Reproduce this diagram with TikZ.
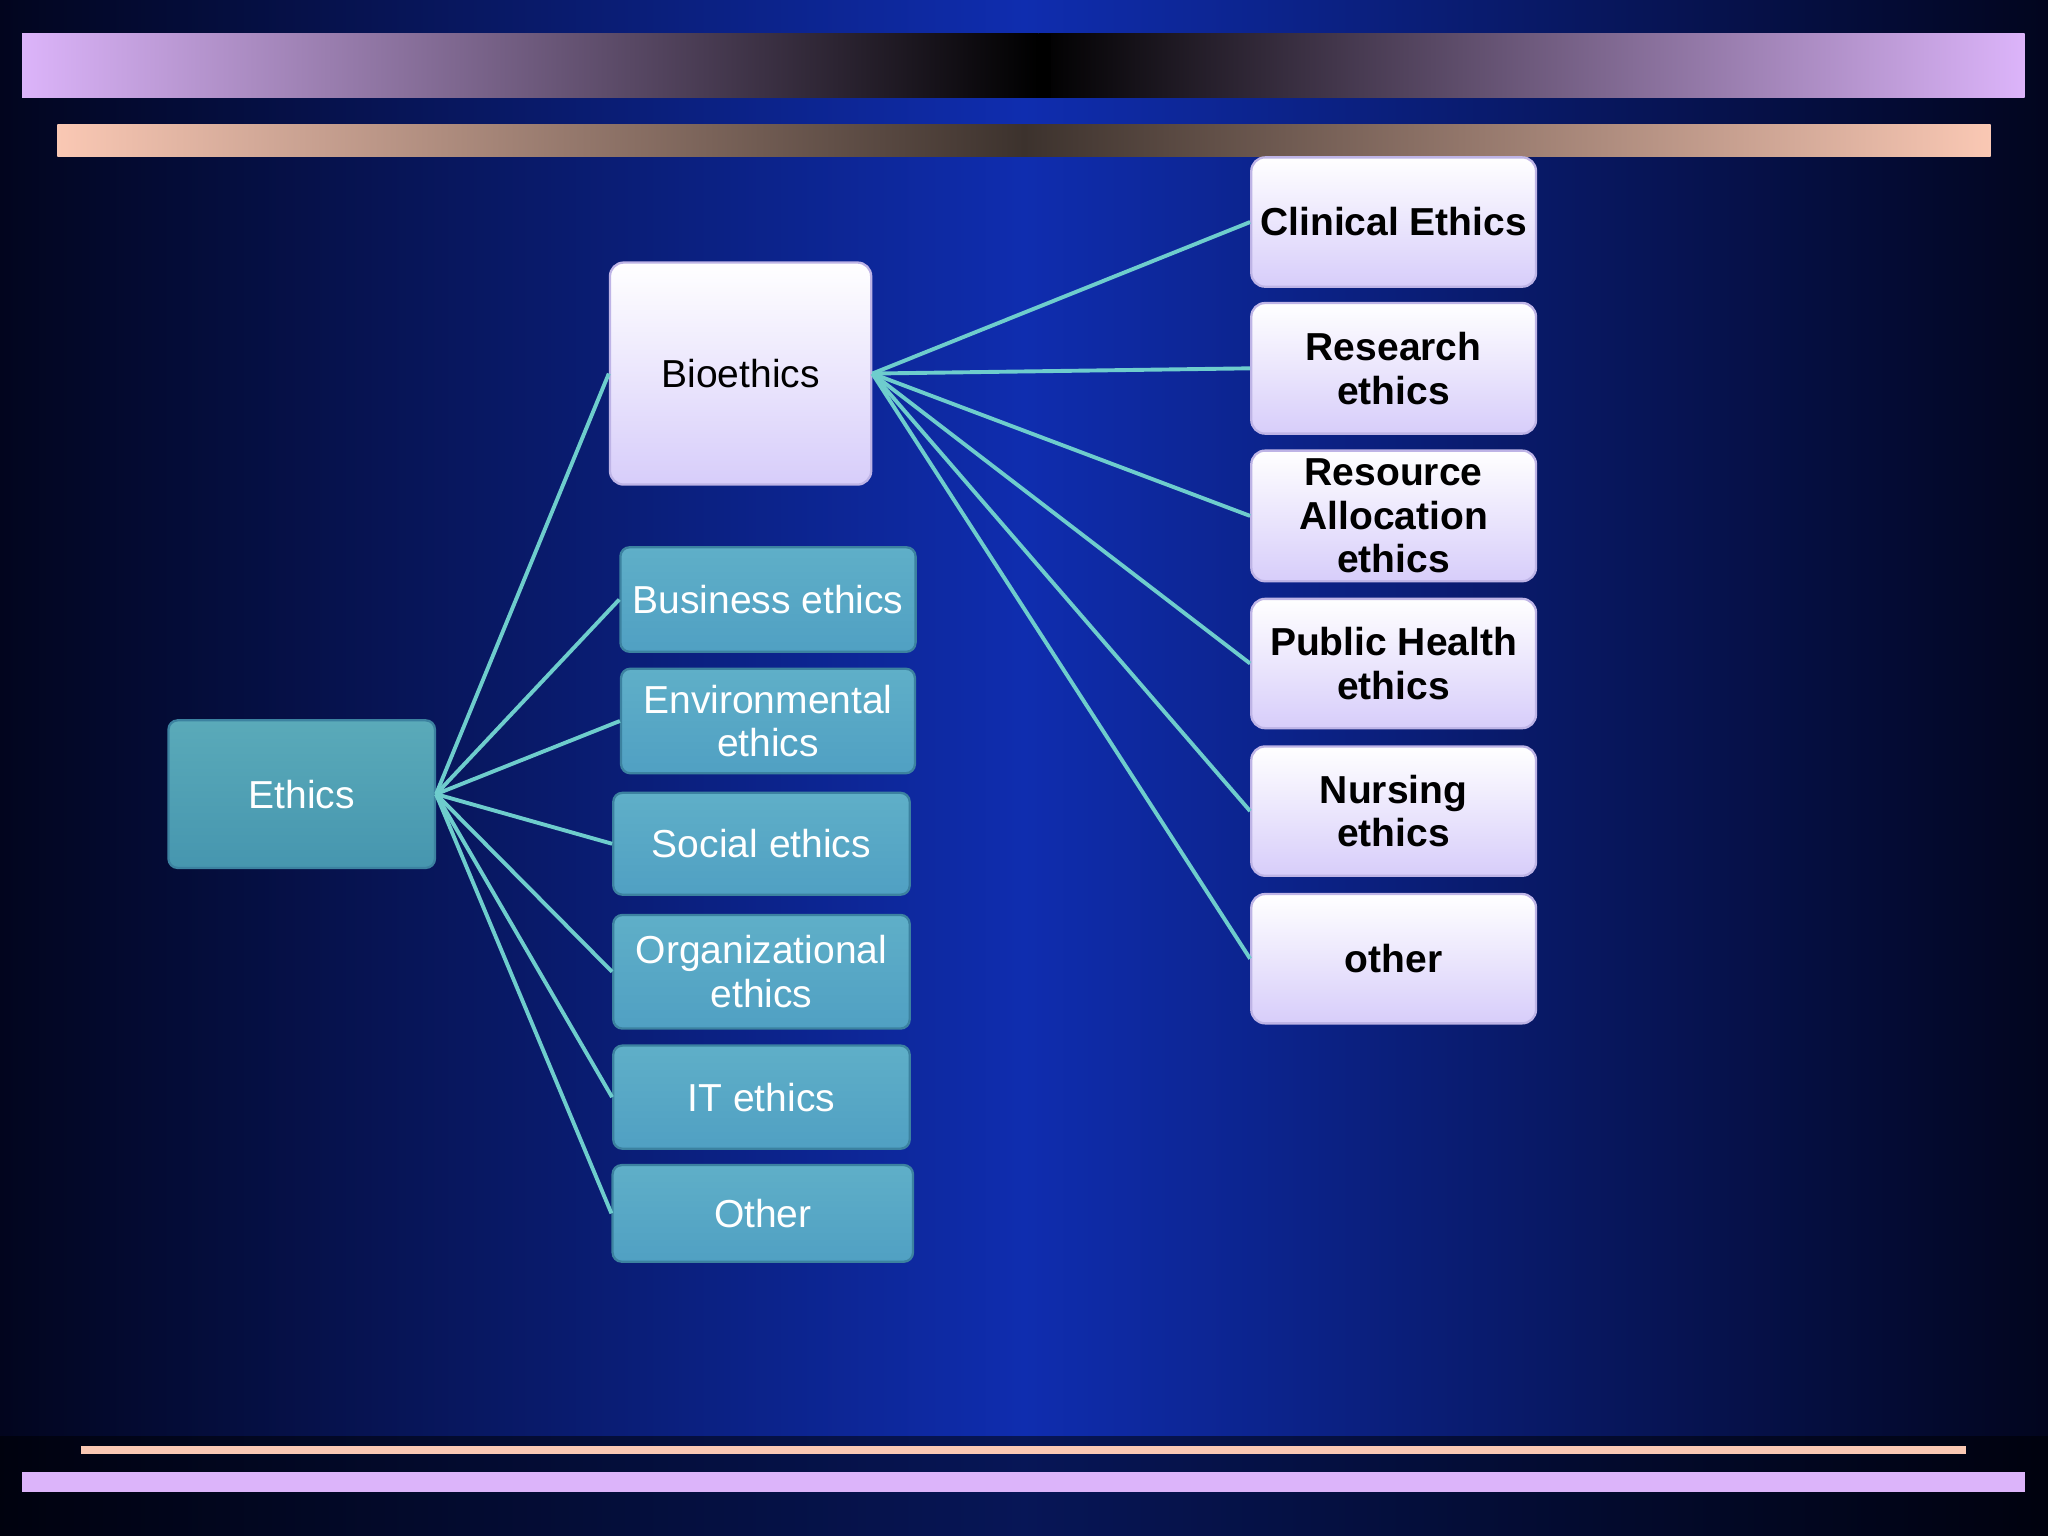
\documentclass[tikz,border=0pt]{standalone}
\usepackage{fontspec}
\setmainfont{Liberation Sans}
\definecolor{bgblue}{RGB}{15,45,175}
\definecolor{bgdark}{RGB}{2,5,30}
\definecolor{lavb}{RGB}{220,180,250}
\definecolor{peach}{RGB}{250,200,180}
\definecolor{darkpeach}{RGB}{60,50,45}
\definecolor{tealdraw}{RGB}{60,130,160}
\definecolor{tealtop}{RGB}{95,175,200}
\definecolor{tealbot}{RGB}{80,160,195}
\definecolor{ethtop}{RGB}{90,170,185}
\definecolor{ethbot}{RGB}{70,150,175}
\definecolor{lavdraw}{RGB}{190,180,230}
\definecolor{lavbot}{RGB}{215,205,250}
\definecolor{connc}{RGB}{110,205,205}
\begin{document}
\begin{tikzpicture}[x=0.02cm,y=-0.02cm,
  teal/.style={draw=tealdraw, line width=1pt, rounded corners=4pt, top color=tealtop, bottom color=tealbot, text=white, align=center, font=\fontsize{17}{19}\selectfont},
  lav/.style={draw=lavdraw, line width=1pt, rounded corners=6pt, top color=white, bottom color=lavbot, text=black, align=center, font=\fontsize{17}{19}\selectfont},
  rlav/.style={lav, font=\bfseries\fontsize{17}{19}\selectfont},
  conn/.style={draw=connc, line width=1.7pt}]
\shade[left color=bgdark, right color=bgdark, middle color=bgblue] (0,0) rectangle (1568,1176);
\shade[top color=bgblue!0!black, bottom color=black, opacity=0.5] (0,1100) rectangle (1568,1176);
% bars
\shade[left color=lavb, right color=black] (17,26) rectangle (795,75);
\shade[left color=black, right color=lavb] (795,26) rectangle (1550,75);
\fill[black] (793,26) rectangle (805,75);
\shade[left color=peach, right color=darkpeach] (44,95) rectangle (784,120);
\shade[left color=darkpeach, right color=peach] (784,95) rectangle (1524,120);
\fill[peach] (62,1107) rectangle (1505,1113);
\fill[lavb] (17,1127) rectangle (1550,1142);
% nodes
\node[teal, top color=ethtop, bottom color=ethbot, minimum width=204*0.02cm, minimum height=113*0.02cm] (eth) at (231,608) {Ethics};
\node[lav, minimum width=200*0.02cm, minimum height=170*0.02cm] (bio) at (567,286) {Bioethics};
\node[teal, minimum width=226*0.02cm, minimum height=80*0.02cm] (bus) at (588,459) {Business ethics};
\node[teal, minimum width=225*0.02cm, minimum height=80*0.02cm] (env) at (588,552) {Environmental\\ethics};
\node[teal, minimum width=227*0.02cm, minimum height=78*0.02cm] (soc) at (583,646) {Social ethics};
\node[teal, minimum width=227*0.02cm, minimum height=87*0.02cm] (org) at (583,744) {Organizational\\ethics};
\node[teal, minimum width=227*0.02cm, minimum height=79*0.02cm] (it) at (583,840) {IT ethics};
\node[teal, minimum width=230*0.02cm, minimum height=74*0.02cm] (oth) at (584,929) {Other};
\node[rlav, minimum width=218*0.02cm, minimum height=99*0.02cm] (cli) at (1067,170) {Clinical Ethics};
\node[rlav, minimum width=218*0.02cm, minimum height=100*0.02cm] (res) at (1067,282) {Research\\ethics};
\node[rlav, minimum width=218*0.02cm, minimum height=100*0.02cm] (rea) at (1067,395) {Resource\\Allocation\\ethics};
\node[rlav, minimum width=218*0.02cm, minimum height=99*0.02cm] (pub) at (1067,508) {Public Health\\ethics};
\node[rlav, minimum width=218*0.02cm, minimum height=99*0.02cm] (nur) at (1067,621) {Nursing\\ethics};
\node[rlav, minimum width=218*0.02cm, minimum height=99*0.02cm] (oth2) at (1067,734) {other};
% connectors
\foreach \n in {bio,bus,env,soc,org,it,oth} \draw[conn] (eth.east) -- (\n.west);
\foreach \n in {cli,res,rea,pub,nur,oth2} \draw[conn] (bio.east) -- (\n.west);
\end{tikzpicture}
\end{document}
